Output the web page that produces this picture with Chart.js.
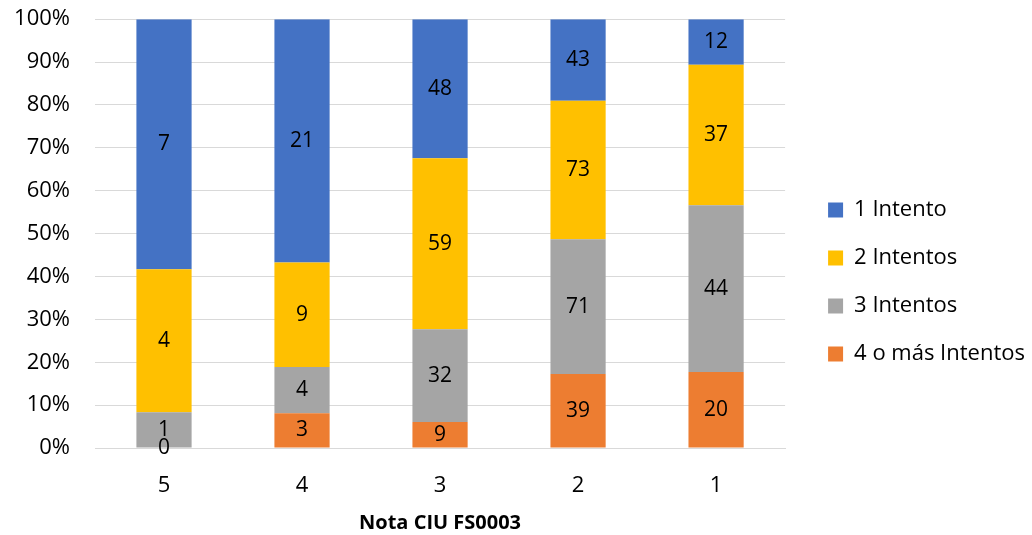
<!DOCTYPE html>
<html>
<head>
<meta charset="utf-8">
<script src="https://cdn.jsdelivr.net/npm/chart.js@4"></script>
<style>
  html, body { margin: 0; padding: 0; background: #fff; }
  #wrap { width: 1032px; height: 535px; position: relative; overflow: hidden; }
  #inner { position: absolute; left: 0; top: -19px; width: 1032px; height: 554px; }
</style>
</head>
<body>
<div id="wrap"><div id="inner"><canvas id="notaChart"></canvas></div></div>
<script>
// Categories (Nota) and counts per number of attempts
const categories = ['5', '4', '3', '2', '1'];
const masIntentos = [0, 3, 9, 39, 20];
const tresIntentos = [1, 4, 32, 71, 44];
const dosIntentos = [4, 9, 59, 73, 37];
const unIntento = [7, 21, 48, 43, 12];

const totals = categories.map((c, i) => masIntentos[i] + tresIntentos[i] + dosIntentos[i] + unIntento[i]);
const toPct = arr => arr.map((v, i) => v / totals[i] * 100);

const FONT = "'Open Sans', 'Liberation Sans', sans-serif";

// draws the raw count in the middle of each segment
const countLabels = {
    id: 'countLabels',
    afterDatasetsDraw(chart) {
        const ctx = chart.ctx;
        ctx.save();
        ctx.font = '21px ' + FONT;
        ctx.fillStyle = '#000';
        ctx.textAlign = 'center';
        ctx.textBaseline = 'middle';
        chart.data.datasets.forEach((ds, di) => {
            const meta = chart.getDatasetMeta(di);
            meta.data.forEach((bar, i) => {
                const mid = (bar.y + bar.base) / 2;
                ctx.fillText(String(ds.counts[i]), bar.x, mid);
            });
        });
        ctx.restore();
    }
};

// nudge the legend a bit away from the plot, like the original
const legendNudge = {
    id: 'legendNudge',
    afterLayout(chart) {
        const lg = chart.legend;
        if (!lg) return;
        lg.left += 17;
        lg.right += 17;
        lg.top += 24;
        lg.bottom += 24;
    }
};

new Chart(document.getElementById('notaChart'), {
    type: 'bar',
    data: {
        labels: categories,
        datasets: [
            { label: '4 o más Intentos', counts: masIntentos, data: toPct(masIntentos), backgroundColor: '#ED7D31' },
            { label: '3 Intentos', counts: tresIntentos, data: toPct(tresIntentos), backgroundColor: '#A5A5A5' },
            { label: '2 Intentos', counts: dosIntentos, data: toPct(dosIntentos), backgroundColor: '#FFC000' },
            { label: '1 Intento', counts: unIntento, data: toPct(unIntento), backgroundColor: '#4472C4' }
        ]
    },
    options: {
        responsive: true,
        maintainAspectRatio: false,
        animation: false,
        datasets: { bar: { categoryPercentage: 1.0, barPercentage: 0.4 } },
        layout: { autoPadding: false, padding: { left: 0, right: 14, top: 0, bottom: 0 } },
        plugins: {
            tooltip: { enabled: false },
            legend: {
                position: 'right',
                reverse: true,
                labels: {
                    boxWidth: 15,
                    boxHeight: 15,
                    padding: 26,
                    color: '#000',
                    font: { family: FONT, size: 22 }
                }
            }
        },
        scales: {
            x: {
                stacked: true,
                grid: { display: false },
                border: { color: '#d9d9d9' },
                afterFit: scale => { scale.height = 87; },
                ticks: { color: '#000', font: { family: FONT, size: 22 }, padding: 17 },
                title: {
                    display: true,
                    text: 'Nota CIU FS0003',
                    color: '#000',
                    font: { family: FONT, size: 20, weight: 'bold' },
                    padding: { top: 10, bottom: 0 }
                }
            },
            y: {
                stacked: true,
                min: 0,
                max: 100,
                grid: { color: '#d9d9d9', drawTicks: false },
                border: { display: false },
                afterFit: scale => { scale.width = 95; },
                ticks: {
                    stepSize: 10,
                    color: '#000',
                    padding: 25,
                    font: { family: FONT, size: 22 },
                    callback: v => v + '%'
                }
            }
        }
    },
    plugins: [countLabels, legendNudge]
});
</script>
</body>
</html>
